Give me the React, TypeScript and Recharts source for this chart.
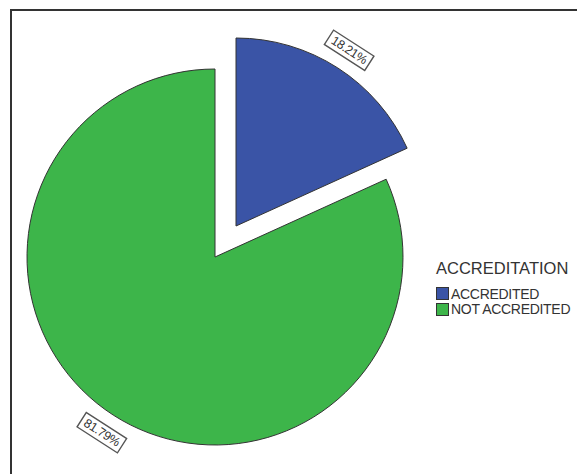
import { PieChart, Pie, Cell, Legend } from 'recharts';

const categories = ['ACCREDITED', 'NOT ACCREDITED'];
const shares = [18.21, 81.79];
const colors = ['#3a54a6', '#3db54a'];
const legendTitle = 'ACCREDITATION';

const data = categories.map((name, i) => ({ name, value: shares[i] }));

const RAD = Math.PI / 180;

// boxed percentage label, rotated along the arc
function makeLabel(visibleIndex: number) {
  return (props: any) => {
    const { cx, cy, midAngle, outerRadius, index, value } = props;
    if (index !== visibleIndex) return null;
    const r = outerRadius + 21;
    const x = cx + r * Math.cos(-midAngle * RAD);
    const y = cy + r * Math.sin(-midAngle * RAD);
    let rot = 90 - midAngle;
    while (rot > 90) rot -= 180;
    while (rot < -90) rot += 180;
    return (
      <g transform={`translate(${x},${y}) rotate(${rot})`}>
        <rect x={-24} y={-8.5} width={48} height={17} fill="#fff" stroke="#555" strokeWidth={1.4} />
        <text
          x={0}
          y={0}
          textAnchor="middle"
          dominantBaseline="central"
          fontFamily="Liberation Sans, Arial, sans-serif"
          fontSize={12.5}
          letterSpacing={-0.4}
          fill="#333"
        >
          {`${Number(value).toFixed(2)}%`}
        </text>
      </g>
    );
  };
}

function LegendBox() {
  return (
    <div style={{ fontFamily: 'Liberation Sans, Arial, sans-serif', color: '#333' }}>
      <div style={{ fontSize: 16.5, lineHeight: '20px', marginBottom: 8 }}>{legendTitle}</div>
      {categories.map((c, i) => (
        <div key={c} style={{ display: 'flex', alignItems: 'center', height: 15.5, fontSize: 14, letterSpacing: -0.3 }}>
          <span
            style={{
              display: 'inline-block',
              width: 13,
              height: 13,
              background: colors[i],
              border: '1px solid #333',
              marginRight: 2,
              boxSizing: 'border-box',
            }}
          />
          {c}
        </div>
      ))}
    </div>
  );
}

export default function App() {
  return (
    <div style={{ position: 'fixed', left: 0, top: 0, width: 577, height: 474, background: '#fff' }}>
      <div
        style={{
          position: 'absolute',
          left: 10,
          top: 9,
          right: 0,
          bottom: 0,
          borderTop: '2px solid #333',
          borderLeft: '2px solid #333',
        }}
      />
      <PieChart
        width={577}
        height={474}
        margin={{ top: 0, right: 0, bottom: 0, left: 0 }}
        style={{ position: 'absolute', left: 0, top: 0 }}
      >
        <Pie
          data={data}
          dataKey="value"
          nameKey="name"
          cx={215}
          cy={257}
          outerRadius={188}
          startAngle={90}
          endAngle={-270}
          stroke="#333"
          strokeWidth={1}
          label={makeLabel(1)}
          labelLine={false}
          isAnimationActive={false}
        >
          {data.map((d, i) => (
            <Cell key={d.name} fill={i === 1 ? colors[i] : 'transparent'} stroke={i === 1 ? '#333' : 'none'} />
          ))}
        </Pie>
        <Pie
          data={data}
          dataKey="value"
          nameKey="name"
          cx={236}
          cy={226}
          outerRadius={188}
          startAngle={90}
          endAngle={-270}
          stroke="#333"
          strokeWidth={1}
          label={makeLabel(0)}
          labelLine={false}
          isAnimationActive={false}
        >
          {data.map((d, i) => (
            <Cell key={d.name} fill={i === 0 ? colors[i] : 'transparent'} stroke={i === 0 ? '#333' : 'none'} />
          ))}
        </Pie>
        <Legend
          layout="vertical"
          content={() => <LegendBox />}
          wrapperStyle={{ position: 'absolute', left: 436, top: 258, width: 141 }}
        />
      </PieChart>
    </div>
  );
}
